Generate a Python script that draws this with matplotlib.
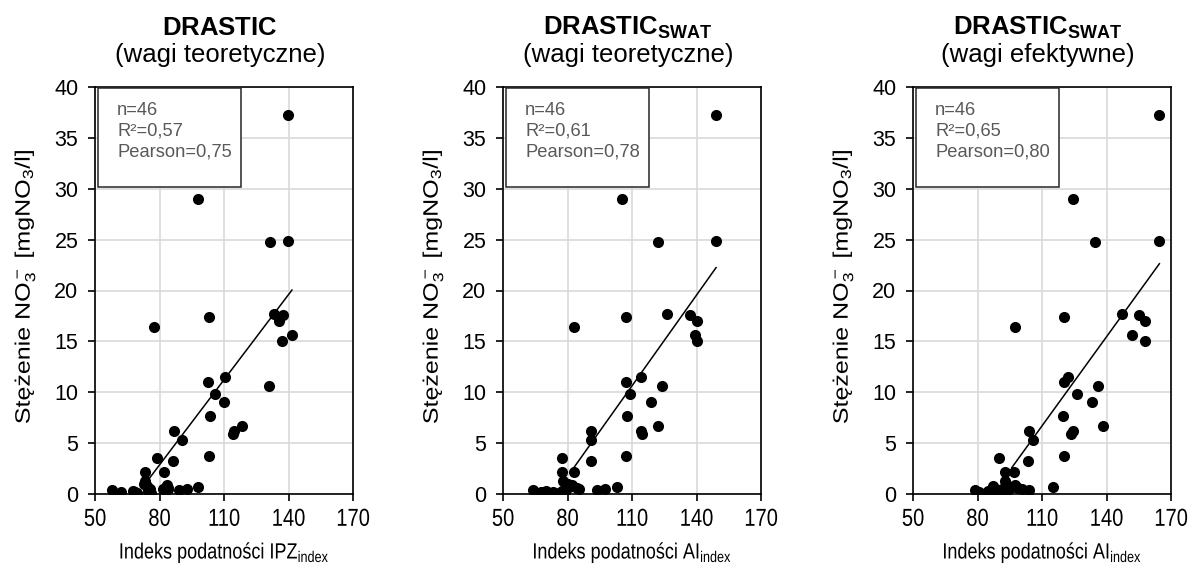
import numpy as np
import matplotlib
matplotlib.use("Agg")
import matplotlib.pyplot as plt
from matplotlib.patches import Rectangle
from matplotlib.patheffects import AbstractPathEffect
from matplotlib.transforms import Affine2D

plt.rcParams["font.family"] = ["Liberation Sans", "DejaVu Sans"]
plt.rcParams["mathtext.fontset"] = "custom"
plt.rcParams["mathtext.rm"] = "Liberation Sans"
plt.rcParams["mathtext.bf"] = "Liberation Sans:bold"
plt.rcParams["mathtext.it"] = "Liberation Sans:italic"


class Stretch(AbstractPathEffect):
    """Draw text stretched about its own centre (display coordinates)."""

    def __init__(self, sx=1.0, sy=1.0):
        super().__init__()
        self.sx, self.sy = sx, sy

    def draw_path(self, renderer, gc, tpath, affine, rgbFace=None):
        v = affine.transform(tpath.vertices)
        if len(v) == 0:
            return
        cx = 0.5 * (v[:, 0].min() + v[:, 0].max())
        cy = 0.5 * (v[:, 1].min() + v[:, 1].max())
        t = affine + Affine2D().translate(-cx, -cy).scale(self.sx, self.sy).translate(cx, cy)
        renderer.draw_path(gc, tpath, t, rgbFace)


# NO3- concentration measured in 46 wells [mg NO3/l]
no3 = [37.2, 29.0, 24.8, 24.9, 17.7, 17.6, 17.0, 17.4, 16.4, 15.6,
       15.0, 11.5, 11.0, 10.6, 9.8, 9.0, 7.7, 6.7, 6.2, 5.9,
       6.2, 5.3, 3.7, 3.5, 3.2, 2.2, 2.2, 1.3, 1.0, 0.7,
       0.75, 0.35, 0.16, 0.26, 0.15, 0.06, 0.26, 0.45, 0.1, 0.49,
       0.69, 0.85, 0.59, 0.45, 0.42, 0.49]

# vulnerability index of each well, three model variants
ipz_drastic = [139.8, 97.8, 131.5, 139.8, 133.2, 137.4, 135.7, 102.8, 77.6, 141.6,
               137.1, 110.4, 102.6, 130.9, 105.6, 109.8, 103.3, 118.3, 114.6, 114.3,
               86.6, 90.4, 102.8, 78.7, 86.4, 73.2, 82.1, 73.3, 72.8, 97.7,
               74.1, 58.1, 62.1, 67.5, 68.5, 69.4, 74.8, 75.5, 76.1, 81.8,
               82.9, 83.5, 83.8, 84.0, 89.1, 92.7]
ai_swat_teor = [149.1, 105.5, 122.2, 149.1, 126.3, 137.1, 140.1, 107.4, 83.2, 139.3,
                140.4, 114.3, 107.2, 124.1, 109.2, 118.8, 107.5, 121.9, 114.2, 114.7,
                91.1, 90.8, 107.4, 77.6, 90.8, 77.6, 82.9, 77.9, 80.0, 103.2,
                81.0, 64.0, 67.9, 70.2, 73.3, 76.0, 77.5, 78.7, 79.0, 79.5,
                80.5, 82.0, 84.6, 85.5, 93.7, 97.3]
ai_swat_ef = [164.6, 124.5, 134.5, 164.6, 147.4, 155.0, 157.9, 120.0, 97.5, 151.7,
              158.0, 122.0, 120.0, 136.2, 126.2, 133.1, 119.7, 138.5, 124.3, 123.4,
              103.9, 105.6, 120.1, 89.8, 103.4, 92.6, 96.8, 92.6, 93.3, 115.3,
              87.0, 78.9, 80.8, 85.1, 86.0, 89.0, 90.0, 91.3, 93.0, 94.5,
              96.0, 97.5, 99.0, 100.9, 104.0, 88.0]

titles_main = [r"$\mathbf{DRASTIC}$",
               r"$\mathbf{DRASTIC}_{\mathbf{SWAT}}$",
               r"$\mathbf{DRASTIC}_{\mathbf{SWAT}}$"]
titles_sub = ["(wagi teoretyczne)", "(wagi teoretyczne)", "(wagi efektywne)"]
xlabels = [r"Indeks podatności IPZ$_{\mathrm{index}}$",
           r"Indeks podatności AI$_{\mathrm{index}}$",
           r"Indeks podatności AI$_{\mathrm{index}}$"]
stats = [("46", "0,57", "0,75"), ("46", "0,61", "0,78"), ("46", "0,65", "0,80")]
trend_from = [75.3, 81.8, 96.0]
x_series = [ipz_drastic, ai_swat_teor, ai_swat_ef]

x_ticks = [50, 80, 110, 140, 170]
y_ticks = [0, 5, 10, 15, 20, 25, 30, 35, 40]

W, H = 1190, 586
fig = plt.figure(figsize=(W / 100, H / 100), dpi=100)

ax_left_px = [95, 503, 913]
ax_w_px, ax_top_px, ax_bot_px = 258, 87, 494
ax_h_px = ax_bot_px - ax_top_px

grey_text = "#595959"
tall = [Stretch(1.0, 1.22)]

for i in range(3):
    l = ax_left_px[i] / W
    ax = fig.add_axes([l, 1 - ax_bot_px / H, ax_w_px / W, ax_h_px / H])
    x = np.array(x_series[i])
    y = np.array(no3)

    ax.set_xlim(x_ticks[0], x_ticks[-1])
    ax.set_ylim(y_ticks[0], y_ticks[-1])
    ax.set_xticks(x_ticks)
    ax.set_yticks(y_ticks)
    ax.grid(True, color="#d9d9d9", lw=1.2, zorder=0)
    ax.set_axisbelow(True)
    for s in ax.spines.values():
        s.set_color("black")
        s.set_linewidth(1.2)
    ax.tick_params(axis="both", direction="out", length=5, width=1.2, colors="black")
    ax.tick_params(axis="y", pad=7, labelsize=15.5)
    ax.tick_params(axis="x", pad=6, labelsize=14.5)
    for lbl in ax.get_xticklabels():
        lbl.set_path_effects(tall)

    ax.scatter(x, y, s=64, color="black", zorder=3, linewidths=0)

    # linear trend line
    k, b = np.polyfit(x, y, 1)
    xx = np.array([trend_from[i], x.max()])
    ax.plot(xx, k * xx + b, color="black", lw=1.1, zorder=4)

    # statistics box
    ax.add_patch(Rectangle((0.0105, 0.755), 0.556, 0.242, transform=ax.transAxes,
                           facecolor="white", edgecolor="#262626", lw=1.1, zorder=5))
    n, r2, pr = stats[i]
    lines = [f"n={n}", f"R²={r2}", f"Pearson={pr}"]
    for j, t in enumerate(lines):
        ax.text(0.086, 0.943 - j * 0.0515, t, transform=ax.transAxes, fontsize=13.2,
                color=grey_text, va="center", ha="left", zorder=6)

    ax.set_ylabel(r"Stężenie NO$_3^-$ [mgNO$_3$/l]", fontsize=15)
    ax.yaxis.label.set_va("center")
    ax.yaxis.label.set_path_effects([Stretch(1.0, 1.2)])
    ax.yaxis.set_label_coords(-70 / ax_w_px, 0.51)
    ax.set_xlabel(xlabels[i], fontsize=13)
    ax.xaxis.label.set_va("center")
    ax.xaxis.label.set_path_effects(tall)
    ax.xaxis.set_label_coords(0.5, -(553 - ax_bot_px) / ax_h_px)

    cx = (ax_left_px[i] + ax_w_px / 2 - 4) / W
    fig.text(cx, 1 - 35 / H, titles_main[i], ha="center", va="baseline", fontsize=18.5)
    fig.text(cx, 1 - 62 / H, titles_sub[i], ha="center", va="baseline", fontsize=18.5)

fig.savefig("out.png", dpi=100)
